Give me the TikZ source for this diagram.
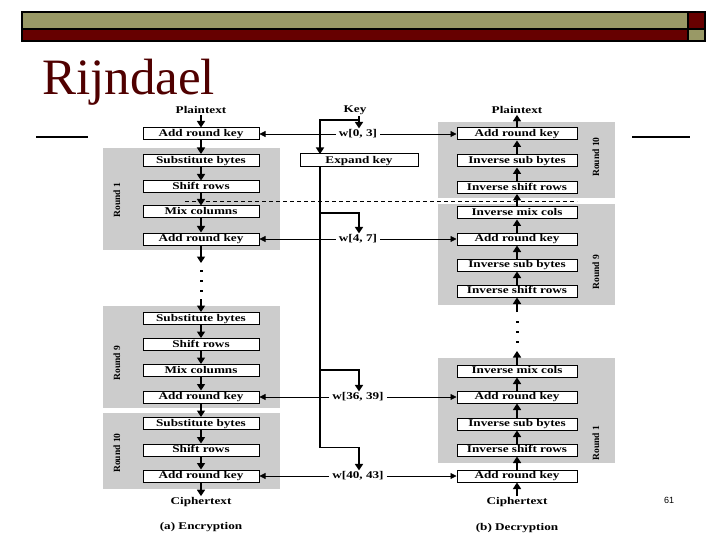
\documentclass[tikz,border=0pt]{standalone}
\usepackage{fontspec}
\setmainfont{Liberation Serif}
\newfontfamily\dfont{Liberation Serif}[FakeStretch=1.28]
\newfontfamily\numfont{Liberation Sans}
\usetikzlibrary{arrows.meta}
\definecolor{hdrolive}{RGB}{153,153,102}
\definecolor{hdrred}{RGB}{102,0,0}
\definecolor{titlered}{RGB}{80,0,0}
\definecolor{roundgrey}{RGB}{204,204,204}
\begin{document}
\begin{tikzpicture}[x=1pt,y=-1pt,
  stepbox/.style={draw=black, fill=white, line width=1pt, minimum height=12pt, inner sep=0pt,
    text height=6.8pt, text depth=1.6pt,
    font=\dfont\bfseries\fontsize{10.3}{10.3}\selectfont},
  lbox/.style={stepbox, minimum width=116pt},
  rbox/.style={stepbox, minimum width=120pt},
  lbl/.style={inner sep=1pt, font=\dfont\bfseries\fontsize{10.3}{10.3}\selectfont},
  wlbl/.style={inner xsep=3pt, inner ysep=1pt, font=\dfont\bfseries\fontsize{10.3}{10.3}\selectfont},
  roundlbl/.style={rotate=90, inner sep=0pt, font=\bfseries\fontsize{9.5}{9.5}\selectfont},
  flow/.style={line width=1.7pt, -{Triangle[width=8pt,length=6.5pt]}},
  keyflow/.style={line width=1.6pt, -{Triangle[width=8pt,length=6.5pt]}},
  keyline/.style={line width=0.8pt, -{Triangle[width=6pt,length=6pt]}},
  greybox/.style={fill=roundgrey},
  dotmark/.style={fill=black, minimum width=3pt, minimum height=2pt, inner sep=0pt},
  hdr/.style={draw=black, line width=1.5pt}
]
\useasboundingbox (0,0) rectangle (720,540);
\fill[white] (0,0) rectangle (720,540);

% header bars
\path[hdr, fill=hdrolive] (22,12) rectangle (688,29);
\path[hdr, fill=hdrred] (22,29) rectangle (688,41);
\path[hdr, fill=hdrred] (688,12) rectangle (705,29);
\path[hdr, fill=hdrolive] (688,29) rectangle (705,41);

% title
\node[anchor=base west, inner sep=0pt, text=titlered, font=\fontsize{51}{51}\selectfont] (title) at (42,95) {Rijndael};
\draw[line width=2pt] (36,137.5) -- (88,137.5);
\draw[line width=2pt] (632,137.5) -- (690,137.5);

% grey round regions
\fill[greybox] (103,148) rectangle (280,250);
\fill[greybox] (103,306) rectangle (280,408);
\fill[greybox] (103,413) rectangle (280,489);
\fill[greybox] (438,122) rectangle (615,198);
\fill[greybox] (438,204) rectangle (615,305);
\fill[greybox] (438,358) rectangle (615,463);

% round labels
\node[roundlbl] (rl1) at (117,200) {Round 1};
\node[roundlbl] (rl9) at (117,363) {Round 9};
\node[roundlbl] (rl10) at (117,453) {Round 10};
\node[roundlbl] (rr10) at (596,157) {Round 10};
\node[roundlbl] (rr9) at (596,272) {Round 9};
\node[roundlbl] (rr1) at (596,443) {Round 1};

% dashed separator
\draw[line width=0.8pt, dash pattern=on 4pt off 3pt] (185,201) -- (577,201);

% left column (encryption)
\node[lbl] (PL) at (201,110) {Plaintext};
\node[lbox] (L1) at (201,134) {Add round key};
\node[lbox] (L2) at (201,160.5) {Substitute bytes};
\node[lbox] (L3) at (201,187) {Shift rows};
\node[lbox] (L4) at (201,212) {Mix columns};
\node[lbox] (L5) at (201,239) {Add round key};
\node[lbox] (L6) at (201,318.5) {Substitute bytes};
\node[lbox] (L7) at (201,344.5) {Shift rows};
\node[lbox] (L8) at (201,370.5) {Mix columns};
\node[lbox] (L9) at (201,397) {Add round key};
\node[lbox] (L10) at (201,423.5) {Substitute bytes};
\node[lbox] (L11) at (201,450) {Shift rows};
\node[lbox] (L12) at (201,476) {Add round key};
\node[lbl] (CL) at (201,502) {Ciphertext};
\node[lbl] (capA) at (201,527) {(a) Encryption};

\node[dotmark] (ld1) at (201,271) {};
\node[dotmark] (ld2) at (201,281) {};
\node[dotmark] (ld3) at (201,291) {};
\coordinate (ldtop) at (201,263);
\coordinate (ldbot) at (201,299);

\draw[flow] (PL) -- (L1);
\draw[flow] (L1) -- (L2);
\draw[flow] (L2) -- (L3);
\draw[flow] (L3) -- (L4);
\draw[flow] (L4) -- (L5);
\draw[flow] (L5) -- (ldtop);
\draw[flow] (ldbot) -- (L6);
\draw[flow] (L6) -- (L7);
\draw[flow] (L7) -- (L8);
\draw[flow] (L8) -- (L9);
\draw[flow] (L9) -- (L10);
\draw[flow] (L10) -- (L11);
\draw[flow] (L11) -- (L12);
\draw[flow] (L12) -- (CL);

% right column (decryption)
\node[lbl] (PR) at (517,110) {Plaintext};
\node[rbox] (R1) at (517,134) {Add round key};
\node[rbox] (R2) at (517,161) {Inverse sub bytes};
\node[rbox] (R3) at (517,187.5) {Inverse shift rows};
\node[rbox] (R4) at (517,213) {Inverse mix cols};
\node[rbox] (R5) at (517,239) {Add round key};
\node[rbox] (R6) at (517,265) {Inverse sub bytes};
\node[rbox] (R7) at (517,291) {Inverse shift rows};
\node[rbox] (R8) at (517,371) {Inverse mix cols};
\node[rbox] (R9) at (517,397) {Add round key};
\node[rbox] (R10) at (517,424) {Inverse sub bytes};
\node[rbox] (R11) at (517,450) {Inverse shift rows};
\node[rbox] (R12) at (517,476) {Add round key};
\node[lbl] (CR) at (517,502) {Ciphertext};
\node[lbl] (capB) at (517,528) {(b) Decryption};

\node[dotmark] (rd1) at (517,322) {};
\node[dotmark] (rd2) at (517,332) {};
\node[dotmark] (rd3) at (517,342) {};
\coordinate (rdtop) at (517,312);
\coordinate (rdbot) at (517,351);

\draw[flow] (CR) -- (R12);
\draw[flow] (R12) -- (R11);
\draw[flow] (R11) -- (R10);
\draw[flow] (R10) -- (R9);
\draw[flow] (R9) -- (R8);
\draw[flow] (R8) -- (rdbot);
\draw[flow] (rdtop) -- (R7);
\draw[flow] (R7) -- (R6);
\draw[flow] (R6) -- (R5);
\draw[flow] (R5) -- (R4);
\draw[flow] (R4) -- (R3);
\draw[flow] (R3) -- (R2);
\draw[flow] (R2) -- (R1);
\draw[flow] (R1) -- (PR);

% key schedule
\node[lbl] (K) at (355,110) {Key};
\node[stepbox, minimum width=118pt, minimum height=13pt] (EK) at (359,160.5) {Expand key};
\node[wlbl] (w03) at (358,134) {w[0, 3]};
\node[wlbl] (w47) at (358,239) {w[4, 7]};
\node[wlbl] (w3639) at (358,397) {w[36, 39]};
\node[wlbl] (w4043) at (358,476) {w[40, 43]};

\coordinate (k0) at (359,116);
\coordinate (kb) at (359,120);
\coordinate (ekin) at (320,154);
\coordinate (ekout) at (320,167);
\coordinate (t4) at (320,213);
\coordinate (t36) at (320,370);
\coordinate (t40) at (320,447.5);

\draw[keyflow] (k0) -- (w03.north -| k0);
\draw[keyflow] (kb) -| (ekin);
\draw[line width=1.6pt] (ekout) -- (t40);
\draw[keyflow] (t4) -| (w47.north -| k0);
\draw[keyflow] (t36) -| (w3639.north -| k0);
\draw[keyflow] (t40) -| (w4043.north -| k0);

\draw[keyline] (w03.west) -- (L1.east);
\draw[keyline] (w03.east) -- (R1.west);
\draw[keyline] (w47.west) -- (L5.east);
\draw[keyline] (w47.east) -- (R5.west);
\draw[keyline] (w3639.west) -- (L9.east);
\draw[keyline] (w3639.east) -- (R9.west);
\draw[keyline] (w4043.west) -- (L12.east);
\draw[keyline] (w4043.east) -- (R12.west);

% slide number
\node[inner sep=0pt, font=\numfont\fontsize{9}{9}\selectfont] (num) at (669,500) {61};
\end{tikzpicture}
\end{document}
